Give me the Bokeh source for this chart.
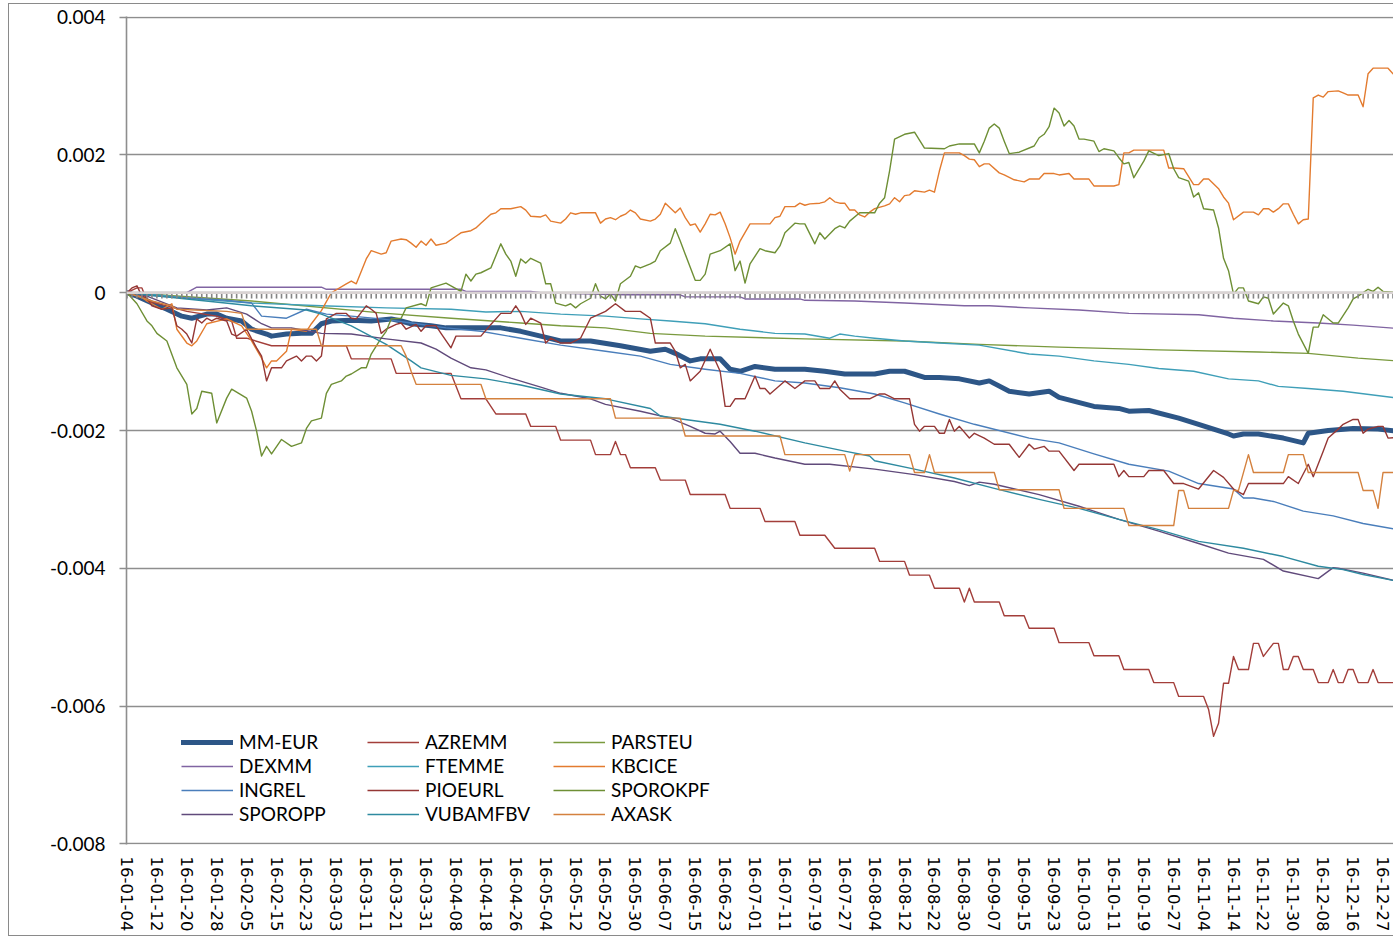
import numpy as np
from bokeh.plotting import figure
from bokeh.models import (ColumnDataSource, Range1d, FixedTicker, Span, Legend, LegendItem)
from bokeh.embed import file_html
from bokeh.resources import INLINE

# ---------------- categories (trading days of 2016, index 0 = 16-01-04) -------------
n_days = 256
tick_days = list(range(0, 253, 6))
tick_labels = ["16-01-04", "16-01-12", "16-01-20", "16-01-28", "16-02-05", "16-02-15",
               "16-02-23", "16-03-03", "16-03-11", "16-03-21", "16-03-31", "16-04-08",
               "16-04-18", "16-04-26", "16-05-04", "16-05-12", "16-05-20", "16-05-30",
               "16-06-07", "16-06-15", "16-06-23", "16-07-01", "16-07-11", "16-07-19",
               "16-07-27", "16-08-04", "16-08-12", "16-08-22", "16-08-30", "16-09-07",
               "16-09-15", "16-09-23", "16-10-03", "16-10-11", "16-10-19", "16-10-27",
               "16-11-04", "16-11-14", "16-11-22", "16-11-30", "16-12-08", "16-12-16",
               "16-12-27"]
y_ticks = [-0.008, -0.006, -0.004, -0.002, 0, 0.002, 0.004]
y_tick_labels = ["-0.008", "-0.006", "-0.004", "-0.002", "0", "0.002", "0.004"]

# ---------------- series: (trading-day index, value) ----------------
mm_eur = [(0, 0), (2, -0.00005), (5, -0.00015), (8, -0.00024), (11, -0.00034), (13, -0.00037),
          (16, -0.00031), (18, -0.00031), (20, -0.00037), (23, -0.00041), (25, -0.00053),
          (28, -0.00060), (29, -0.00063), (32, -0.00060), (35, -0.00059), (37, -0.00059),
          (39, -0.00045), (41, -0.00041), (45, -0.00040), (49, -0.00041), (53, -0.00038),
          (55, -0.00041), (57, -0.00045), (61, -0.00048), (64, -0.00051), (68, -0.00051),
          (72, -0.00051), (75, -0.00051), (79, -0.00056), (83, -0.00063), (87, -0.00070),
          (93, -0.00070), (99, -0.00077), (105, -0.00085), (108, -0.00082), (110, -0.00088),
          (113, -0.00099), (115, -0.00096), (119, -0.00096), (121, -0.00111), (123, -0.00114),
          (126, -0.00107), (130, -0.00111), (136, -0.00111), (140, -0.00114), (144, -0.00118),
          (150, -0.00118), (153, -0.00114), (156, -0.00114), (160, -0.00123), (163, -0.00123),
          (167, -0.00125), (171, -0.00131), (173, -0.00128), (177, -0.00143), (181, -0.00147),
          (185, -0.00143), (187, -0.00152), (194, -0.00165), (199, -0.00168), (201, -0.00172),
          (205, -0.00171), (211, -0.00182), (215, -0.00191), (221, -0.00205), (222, -0.00208),
          (224, -0.00205), (227, -0.00205), (232, -0.00211), (236, -0.00218), (237, -0.00204),
          (241, -0.00200), (246, -0.00197), (251, -0.00198), (255, -0.00201)]

azremm = [(0, 0), (2, 0.00007), (3, 0.00007), (4, -0.00012), (8, -0.00019), (12, -0.00027),
          (18, -0.00034), (21, -0.00041), (22, -0.00066), (24, -0.00066), (29, -0.00077),
          (44, -0.00077), (45, -0.00096), (53, -0.00096), (54, -0.00117), (65, -0.00117),
          (67, -0.00154), (72, -0.00154), (74, -0.00176), (80, -0.00176), (81, -0.00194),
          (86, -0.00194), (87, -0.00214), (93, -0.00214), (94, -0.00235), (97, -0.00235),
          (98, -0.00216), (99, -0.00235), (100, -0.00235), (101, -0.00254), (106, -0.00254),
          (107, -0.00272), (112, -0.00272), (113, -0.00293), (120, -0.00293), (121, -0.00313),
          (127, -0.00313), (128, -0.00332), (134, -0.00332), (135, -0.00352), (140, -0.00352),
          (142, -0.00371), (150, -0.00371), (151, -0.00390), (156, -0.00390), (157, -0.00410),
          (161, -0.00410), (162, -0.00429), (167, -0.00429), (168, -0.00449), (169, -0.00429),
          (170, -0.00449), (175, -0.00449), (176, -0.00469), (180, -0.00469), (181, -0.00487),
          (186, -0.00487), (187, -0.00508), (193, -0.00508), (194, -0.00527), (199, -0.00527),
          (200, -0.00547), (205, -0.00547), (206, -0.00566), (210, -0.00566), (211, -0.00586),
          (216, -0.00586), (217, -0.00605), (218, -0.00644), (219, -0.00625), (220, -0.00567),
          (221, -0.00567), (222, -0.00528), (223, -0.00547), (225, -0.00547), (226, -0.00509),
          (227, -0.00509), (228, -0.00528), (230, -0.00509), (231, -0.00509), (232, -0.00547),
          (233, -0.00547), (234, -0.00528), (235, -0.00528), (236, -0.00547), (238, -0.00547),
          (239, -0.00566), (241, -0.00566), (242, -0.00547), (243, -0.00566), (244, -0.00566),
          (245, -0.00547), (246, -0.00547), (247, -0.00566), (249, -0.00566), (250, -0.00547),
          (251, -0.00566), (255, -0.00566)]

parsteu = [(0, 0), (25, -0.00012), (52, -0.00030), (65, -0.00037), (79, -0.00044), (87, -0.00048),
           (96, -0.00051), (105, -0.00059), (116, -0.00063), (136, -0.00067), (156, -0.00070),
           (171, -0.00075), (187, -0.00079), (207, -0.00083), (227, -0.00086), (237, -0.00088),
           (247, -0.00095), (255, -0.00099)]

dexmm = [(0, 0), (12, 0.0), (14, 0.00008), (39, 0.00008), (40, 0.00005), (67, 0.00005),
         (68, 0.00002), (81, 0.00002), (83, 0.0), (100, -0.00003), (111, -0.00003),
         (112, -0.00006), (123, -0.00006), (124, -0.00009), (135, -0.00009), (136, -0.00011),
         (146, -0.00012), (156, -0.00015), (168, -0.00019), (173, -0.00019), (181, -0.00022),
         (191, -0.00025), (201, -0.00030), (215, -0.00032), (222, -0.00037), (230, -0.00041),
         (239, -0.00044), (246, -0.00047), (255, -0.00052)]

ftemme = [(0, 0), (5, -0.00002), (12, -0.00008), (25, -0.00015), (39, -0.00019), (52, -0.00022),
          (65, -0.00024), (72, -0.00028), (79, -0.00027), (87, -0.00031), (96, -0.00034),
          (103, -0.00038), (109, -0.00041), (116, -0.00045), (123, -0.00053), (130, -0.00059),
          (136, -0.00060), (141, -0.00066), (143, -0.00060), (146, -0.00063), (150, -0.00066),
          (156, -0.00070), (163, -0.00073), (171, -0.00076), (181, -0.00089), (187, -0.00092),
          (194, -0.00099), (201, -0.00104), (207, -0.00110), (214, -0.00114), (221, -0.00125),
          (227, -0.00128), (231, -0.00136), (237, -0.00139), (244, -0.00143), (255, -0.00153)]

kbcice = [(0, 0), (2, -0.00002), (4, -0.00012), (5, -0.00016), (7, -0.00024), (9, -0.00016),
          (10, -0.00053), (12, -0.00073), (13, -0.00077), (14, -0.00070), (16, -0.00045),
          (20, -0.00038), (23, -0.00048), (25, -0.00070), (27, -0.00095), (28, -0.00109),
          (29, -0.00099), (30, -0.00099), (32, -0.00085), (33, -0.00053), (36, -0.00056),
          (37, -0.00045), (39, -0.00026), (41, 0.0), (44, 0.00013), (45, 0.00017), (46, 0.00013),
          (48, 0.00049), (49, 0.00061), (51, 0.00056), (52, 0.00058), (53, 0.00075), (55, 0.00078),
          (56, 0.00077), (57, 0.00072), (58, 0.00066), (59, 0.00075), (60, 0.00069), (61, 0.00078),
          (62, 0.00069), (64, 0.00072), (66, 0.00082), (67, 0.00087), (69, 0.00090), (70, 0.00094),
          (71, 0.00101), (73, 0.00114), (74, 0.00116), (75, 0.00122), (77, 0.00122), (79, 0.00125),
          (80, 0.00120), (81, 0.00111), (83, 0.00110), (84, 0.00113), (85, 0.00104), (87, 0.00101),
          (88, 0.00107), (89, 0.00116), (90, 0.00114), (91, 0.00116), (94, 0.00116), (95, 0.00101),
          (96, 0.00107), (97, 0.00109), (98, 0.00106), (99, 0.00111), (100, 0.00114), (101, 0.00120),
          (102, 0.00116), (103, 0.00107), (105, 0.00104), (106, 0.00107), (107, 0.00114),
          (108, 0.00130), (109, 0.00123), (110, 0.00116), (111, 0.00123), (112, 0.00109),
          (113, 0.00098), (114, 0.00100), (115, 0.00088), (116, 0.00100), (117, 0.00114),
          (118, 0.00113), (119, 0.00117), (120, 0.00100), (121, 0.00080), (122, 0.00056),
          (123, 0.00075), (125, 0.00100), (127, 0.00100), (129, 0.00100), (130, 0.00109),
          (131, 0.00111), (132, 0.00125), (134, 0.00125), (135, 0.00130), (136, 0.00127),
          (137, 0.00129), (139, 0.00130), (140, 0.00132), (141, 0.00138), (142, 0.00132),
          (143, 0.00130), (144, 0.00130), (145, 0.00120), (146, 0.00120), (147, 0.00113),
          (148, 0.00110), (149, 0.00117), (150, 0.00122), (152, 0.00126), (153, 0.00129),
          (154, 0.00138), (155, 0.00132), (156, 0.00141), (157, 0.00142), (158, 0.00148),
          (160, 0.00146), (161, 0.00149), (162, 0.00146), (163, 0.00177), (164, 0.00203),
          (166, 0.00203), (167, 0.00203), (168, 0.00199), (169, 0.00194), (170, 0.00193),
          (171, 0.00183), (172, 0.00187), (173, 0.00187), (175, 0.00174), (176, 0.00171),
          (178, 0.00164), (180, 0.00161), (181, 0.00165), (183, 0.00165), (184, 0.00173),
          (186, 0.00173), (187, 0.00171), (189, 0.00173), (190, 0.00165), (193, 0.00165),
          (194, 0.00155), (198, 0.00155), (199, 0.00157), (200, 0.00203), (201, 0.00203),
          (202, 0.00207), (208, 0.00207), (209, 0.00181), (210, 0.00181), (212, 0.00180),
          (214, 0.00157), (215, 0.00157), (216, 0.00165), (217, 0.00165), (219, 0.00151),
          (220, 0.00139), (221, 0.00130), (222, 0.00106), (224, 0.00117), (226, 0.00117),
          (227, 0.00113), (228, 0.00122), (229, 0.00122), (230, 0.00117), (231, 0.00122),
          (232, 0.00129), (233, 0.00129), (234, 0.00114), (235, 0.00100), (236, 0.00106),
          (237, 0.00107), (238, 0.00283), (239, 0.00287), (240, 0.00284), (241, 0.00292),
          (243, 0.00293), (244, 0.00290), (245, 0.00287), (247, 0.00287), (248, 0.00270),
          (249, 0.00318), (250, 0.00326), (253, 0.00326), (254, 0.00318), (255, 0.00325)]

ingrel = [(0, 0), (6, -0.00005), (13, -0.00008), (20, -0.00011), (25, -0.00015), (27, -0.00034),
          (32, -0.00037), (36, -0.00024), (40, -0.00031), (45, -0.00034), (51, -0.00038),
          (57, -0.00044), (64, -0.00051), (71, -0.00056), (79, -0.00066), (87, -0.00076),
          (96, -0.00085), (103, -0.00092), (109, -0.00104), (116, -0.00111), (123, -0.00117),
          (130, -0.00128), (136, -0.00131), (143, -0.00138), (150, -0.00147), (156, -0.00160),
          (163, -0.00176), (170, -0.00191), (181, -0.00211), (187, -0.00218), (194, -0.00234),
          (201, -0.00249), (209, -0.00259), (215, -0.00277), (222, -0.00285), (224, -0.00298),
          (226, -0.00298), (230, -0.00303), (236, -0.00317), (242, -0.00324), (248, -0.00335),
          (255, -0.00344)]

pioeurl = [(0, 0), (1, 0.00007), (2, 0.00010), (3, -0.00005), (4, -0.00008), (5, -0.00019),
           (7, -0.00024), (9, -0.00022), (10, -0.00048), (11, -0.00053), (12, -0.00060),
           (13, -0.00073), (14, -0.00038), (15, -0.00044), (16, -0.00037), (17, -0.00041),
           (18, -0.00037), (20, -0.00041), (21, -0.00060), (22, -0.00063), (24, -0.00053),
           (25, -0.00067), (26, -0.00080), (27, -0.00092), (28, -0.00128), (29, -0.00109),
           (31, -0.00109), (32, -0.00099), (34, -0.00092), (35, -0.00099), (36, -0.00092),
           (37, -0.00092), (38, -0.00099), (39, -0.00092), (40, -0.00038), (42, -0.00030),
           (44, -0.00030), (45, -0.00037), (46, -0.00038), (48, -0.00019), (49, -0.00024),
           (50, -0.00030), (51, -0.00059), (52, -0.00053), (54, -0.00046), (55, -0.00044),
           (56, -0.00053), (58, -0.00046), (59, -0.00056), (60, -0.00048), (62, -0.00048),
           (63, -0.00059), (65, -0.00080), (66, -0.00063), (71, -0.00063), (73, -0.00046),
           (75, -0.00030), (77, -0.00030), (78, -0.00019), (79, -0.00030), (80, -0.00046),
           (81, -0.00037), (83, -0.00044), (84, -0.00073), (85, -0.00066), (87, -0.00073),
           (89, -0.00073), (91, -0.00066), (93, -0.00037), (96, -0.00027), (98, -0.00016),
           (100, -0.00027), (103, -0.00027), (105, -0.00037), (106, -0.00073), (109, -0.00073),
           (110, -0.00085), (111, -0.00109), (112, -0.00104), (113, -0.00128), (115, -0.00114),
           (117, -0.00082), (119, -0.00114), (120, -0.00165), (121, -0.00165), (122, -0.00154),
           (124, -0.00154), (126, -0.00121), (127, -0.00139), (128, -0.00139), (129, -0.00147),
           (132, -0.00128), (134, -0.00139), (136, -0.00128), (138, -0.00128), (139, -0.00139),
           (141, -0.00139), (142, -0.00128), (143, -0.00140), (144, -0.00147), (145, -0.00154),
           (149, -0.00154), (151, -0.00147), (152, -0.00147), (154, -0.00154), (157, -0.00154),
           (158, -0.00191), (159, -0.00201), (160, -0.00194), (162, -0.00194), (163, -0.00204),
           (164, -0.00204), (165, -0.00184), (166, -0.00201), (167, -0.00194), (169, -0.00211),
           (170, -0.00204), (172, -0.00211), (174, -0.00220), (177, -0.00220), (179, -0.00239),
           (181, -0.00220), (182, -0.00227), (184, -0.00223), (185, -0.00230), (187, -0.00230),
           (190, -0.00258), (191, -0.00249), (198, -0.00249), (199, -0.00267), (200, -0.00258),
           (201, -0.00267), (204, -0.00267), (205, -0.00258), (208, -0.00258), (210, -0.00277),
           (212, -0.00277), (215, -0.00285), (218, -0.00258), (220, -0.00268), (222, -0.00285),
           (224, -0.00293), (225, -0.00277), (232, -0.00277), (233, -0.00267), (235, -0.00277),
           (237, -0.00249), (238, -0.00267), (240, -0.00230), (241, -0.00211), (243, -0.00198),
           (244, -0.00191), (246, -0.00184), (247, -0.00184), (248, -0.00204), (249, -0.00198),
           (251, -0.00194), (252, -0.00194), (253, -0.00211), (255, -0.00210)]

sporokpf = [(0, 0), (1, -0.00008), (2, -0.00016), (4, -0.00041), (5, -0.00048), (6, -0.00059),
            (8, -0.00070), (10, -0.00109), (12, -0.00133), (13, -0.00176), (14, -0.00168),
            (15, -0.00143), (17, -0.00146), (18, -0.00189), (20, -0.00153), (21, -0.00140),
            (24, -0.00153), (25, -0.00172), (26, -0.00201), (27, -0.00237), (28, -0.00223),
            (29, -0.00234), (31, -0.00213), (33, -0.00223), (35, -0.00218), (36, -0.00197),
            (37, -0.00186), (39, -0.00182), (40, -0.00146), (41, -0.00133), (43, -0.00128),
            (44, -0.00121), (45, -0.00118), (47, -0.00109), (48, -0.00109), (49, -0.00089),
            (51, -0.00066), (52, -0.00056), (53, -0.00038), (55, -0.00037), (56, -0.00022),
            (59, -0.00016), (60, -0.00019), (61, 0.00007), (64, 0.00014), (65, 0.00010),
            (67, 0.00002), (68, 0.00027), (69, 0.00017), (70, 0.00027), (71, 0.00029),
            (73, 0.00036), (75, 0.00071), (76, 0.00056), (77, 0.00046), (78, 0.00024),
            (79, 0.00049), (80, 0.00043), (81, 0.00050), (83, 0.00043), (84, 0.00013),
            (85, 0.00013), (86, -0.00015), (88, -0.00019), (89, -0.00016), (90, -0.00022),
            (91, -0.00016), (93, -0.00008), (94, 0.00013), (95, -0.00005), (96, -0.00009),
            (97, -0.00002), (98, -0.00012), (99, 0.00013), (101, 0.00024), (102, 0.00039),
            (103, 0.00036), (105, 0.00042), (106, 0.00046), (107, 0.00061), (109, 0.00072),
            (110, 0.00093), (111, 0.00075), (112, 0.00056), (114, 0.00018), (115, 0.00018),
            (116, 0.00027), (117, 0.00056), (119, 0.00061), (121, 0.00071), (122, 0.00032),
            (123, 0.00046), (124, 0.00014), (125, 0.00042), (127, 0.00064), (128, 0.00061),
            (130, 0.00058), (131, 0.00068), (132, 0.00087), (134, 0.00101), (135, 0.00100),
            (136, 0.00100), (138, 0.00071), (139, 0.00087), (140, 0.00078), (142, 0.00093),
            (143, 0.00097), (144, 0.00094), (145, 0.00104), (147, 0.00116), (150, 0.00116),
            (151, 0.00130), (152, 0.00138), (153, 0.00177), (154, 0.00223), (156, 0.00230),
            (158, 0.00233), (160, 0.00210), (164, 0.00209), (165, 0.00213), (167, 0.00216),
            (170, 0.00216), (171, 0.00203), (172, 0.00220), (173, 0.00239), (174, 0.00245),
            (175, 0.00239), (176, 0.00220), (177, 0.00202), (179, 0.00204), (182, 0.00213),
            (183, 0.00225), (184, 0.00230), (185, 0.00241), (186, 0.00268), (187, 0.00261),
            (188, 0.00242), (189, 0.00250), (190, 0.00242), (191, 0.00223), (192, 0.00223),
            (194, 0.00220), (195, 0.00205), (196, 0.00209), (198, 0.00206), (199, 0.00196),
            (200, 0.00187), (201, 0.00189), (202, 0.00167), (204, 0.00191), (205, 0.00206),
            (207, 0.00199), (209, 0.00202), (210, 0.00180), (211, 0.00167), (213, 0.00162),
            (214, 0.00139), (215, 0.00145), (216, 0.00122), (218, 0.00120), (219, 0.00094),
            (220, 0.00050), (221, 0.00032), (222, -0.00002), (223, 0.00007), (224, 0.00007),
            (225, -0.00012), (227, -0.00016), (228, -0.00006), (229, -0.00008), (230, -0.00031),
            (232, -0.00015), (233, -0.00019), (234, -0.00041), (235, -0.00060), (237, -0.00088),
            (238, -0.00050), (239, -0.00050), (240, -0.00032), (242, -0.00044), (243, -0.00044),
            (245, -0.00022), (246, -0.00009), (247, -0.00005), (249, 0.00005), (250, 0.00002),
            (251, 0.00008), (252, 0.00002), (255, 0.00000)]

sporopp = [(0, 0), (4, -0.00005), (10, -0.00022), (16, -0.00025), (20, -0.00022), (24, -0.00031),
           (27, -0.00045), (29, -0.00051), (33, -0.00051), (39, -0.00059), (45, -0.00060),
           (52, -0.00067), (59, -0.00073), (62, -0.00082), (65, -0.00095), (69, -0.00109),
           (72, -0.00112), (77, -0.00124), (83, -0.00137), (87, -0.00146), (93, -0.00154),
           (96, -0.00162), (103, -0.00172), (109, -0.00182), (113, -0.00194), (116, -0.00204),
           (118, -0.00205), (119, -0.00201), (121, -0.00216), (123, -0.00233), (126, -0.00233),
           (130, -0.00240), (136, -0.00249), (141, -0.00249), (150, -0.00256), (158, -0.00264),
           (166, -0.00274), (169, -0.00280), (171, -0.00275), (174, -0.00278), (183, -0.00293),
           (191, -0.00310), (199, -0.00329), (207, -0.00346), (215, -0.00364), (221, -0.00378),
           (228, -0.00387), (232, -0.00404), (239, -0.00415), (242, -0.00399), (243, -0.00400),
           (248, -0.00407), (255, -0.00419)]

vubamfbv = [(0, 0), (12, -0.00009), (25, -0.00019), (36, -0.00025), (39, -0.00031), (45, -0.00048),
            (52, -0.00075), (57, -0.00099), (59, -0.00109), (65, -0.00120), (72, -0.00125),
            (79, -0.00134), (87, -0.00147), (96, -0.00154), (105, -0.00168), (107, -0.00179),
            (112, -0.00184), (119, -0.00191), (126, -0.00201), (136, -0.00218), (144, -0.00230),
            (149, -0.00237), (150, -0.00244), (158, -0.00256), (166, -0.00269), (174, -0.00284),
            (183, -0.00300), (191, -0.00313), (199, -0.00329), (207, -0.00344), (215, -0.00361),
            (224, -0.00371), (232, -0.00383), (239, -0.00397), (244, -0.00402), (248, -0.00409),
            (255, -0.00419)]

axask = [(0, 0), (5, -0.00012), (9, -0.00019), (10, -0.00024), (20, -0.00027), (23, -0.00030),
         (24, -0.00053), (38, -0.00053), (39, -0.00077), (55, -0.00077), (56, -0.00092),
         (57, -0.00114), (58, -0.00133), (71, -0.00133), (72, -0.00154), (97, -0.00154),
         (98, -0.00182), (111, -0.00182), (112, -0.00208), (131, -0.00208), (132, -0.00235),
         (144, -0.00235), (145, -0.00259), (146, -0.00235), (157, -0.00235), (158, -0.00261),
         (160, -0.00261), (161, -0.00235), (162, -0.00261), (174, -0.00261), (175, -0.00286),
         (187, -0.00286), (188, -0.00313), (200, -0.00313), (201, -0.00338), (210, -0.00338),
         (211, -0.00287), (212, -0.00287), (213, -0.00313), (221, -0.00313), (222, -0.00287),
         (223, -0.00287), (225, -0.00235), (226, -0.00261), (232, -0.00261), (233, -0.00235),
         (236, -0.00235), (237, -0.00261), (247, -0.00261), (248, -0.00287), (250, -0.00287),
         (251, -0.00313), (252, -0.00261), (255, -0.00261)]

series_names = ["MM-EUR", "AZREMM", "PARSTEU", "DEXMM", "FTEMME", "KBCICE",
                "INGREL", "PIOEURL", "SPOROKPF", "SPOROPP", "VUBAMFBV", "AXASK"]
series_data = [mm_eur, azremm, parsteu, dexmm, ftemme, kbcice,
               ingrel, pioeurl, sporokpf, sporopp, vubamfbv, axask]
series_colors = ["#2D5687", "#A33E3A", "#7A9A3E", "#8064A2", "#3F9FB8", "#E37B2F",
                 "#4A7EBB", "#953735", "#6E8F35", "#604A7B", "#2E8AA0", "#D4813E"]

# ---------------- figure ----------------
p = figure(width=1385, height=933, output_backend="svg", toolbar_location=None,
           x_range=Range1d(-0.1, 254.3), y_range=Range1d(-0.00801, 0.00401),
           min_border_left=117, min_border_right=0, min_border_top=12, min_border_bottom=93)
p.styles = {"margin-left": "8px", "margin-top": "3px",
            "border-left": "1px solid #8A8A8A", "border-top": "1px solid #8A8A8A",
            "border-bottom": "1px solid #8A8A8A", "box-sizing": "border-box"}
p.outline_line_color = None
p.background_fill_color = "white"
p.border_fill_color = "white"

p.xgrid.visible = False
p.ygrid.ticker = FixedTicker(ticks=y_ticks)
p.ygrid.grid_line_color = "#8E8E8E"
p.ygrid.grid_line_width = 1.6

yax = p.yaxis[0]
yax.ticker = FixedTicker(ticks=y_ticks)
yax.major_label_overrides = {t: s for t, s in zip(y_ticks, y_tick_labels)}
yax.axis_line_color = "#8E8E8E"
yax.axis_line_width = 1.6
yax.major_tick_line_color = "#8E8E8E"
yax.major_tick_line_width = 1.6
yax.major_tick_out = 7
yax.major_tick_in = 0
yax.minor_tick_out = 0
yax.minor_tick_in = 0
yax.major_label_text_font = "Lato"
yax.major_label_text_font_size = "19px"
yax.major_label_text_color = "black"
yax.major_label_standoff = 14

xax = p.xaxis[0]
xax.ticker = FixedTicker(ticks=tick_days)
xax.major_label_overrides = {t: s for t, s in zip(tick_days, tick_labels)}
xax.axis_line_color = None
xax.major_tick_line_color = None
xax.major_tick_out = 0
xax.major_tick_in = 0
xax.minor_tick_out = 0
xax.minor_tick_in = 0
xax.major_label_orientation = "vertical"
xax.major_label_text_font = "DejaVu Sans"
xax.major_label_text_font_size = "16.5px"
xax.major_label_text_color = "black"
xax.major_label_standoff = 12

renderers = []
for name, data, color in zip(series_names, series_data, series_colors):
    src = ColumnDataSource(dict(day=[d for d, v in data], value=[v for d, v in data]))
    if name == "MM-EUR":
        r = p.line("day", "value", source=src, line_color=color, line_width=5,
                   line_join="round", line_cap="round")
    else:
        r = p.line("day", "value", source=src, line_color=color, line_width=1.4,
                   line_join="round")
    renderers.append(r)

# category axis crossing at zero: a tick mark per trading day and the axis line
all_days = list(range(n_days))
p.segment(x0=all_days, y0=[0] * n_days, x1=all_days, y1=[-0.000085] * n_days,
          line_color="#858585", line_width=1.6)
p.add_layout(Span(location=0, dimension="width", line_color="#D9D3D3", line_width=2.7))

# legend: 3 columns x 4 rows
col_x = [55, 241, 427]
for c in range(3):
    items = [LegendItem(label=series_names[r * 3 + c], renderers=[renderers[r * 3 + c]])
             for r in range(4)]
    leg = Legend(items=items, location=(col_x[c], 19), orientation="vertical",
                 glyph_width=52, glyph_height=20, label_height=20, spacing=1,
                 padding=0, margin=0, label_standoff=6,
                 label_text_font="Lato", label_text_font_size="19px",
                 label_text_color="black",
                 border_line_alpha=0, background_fill_alpha=0)
    p.add_layout(leg, "center")

open("out.html", "w").write(file_html(p, INLINE))
